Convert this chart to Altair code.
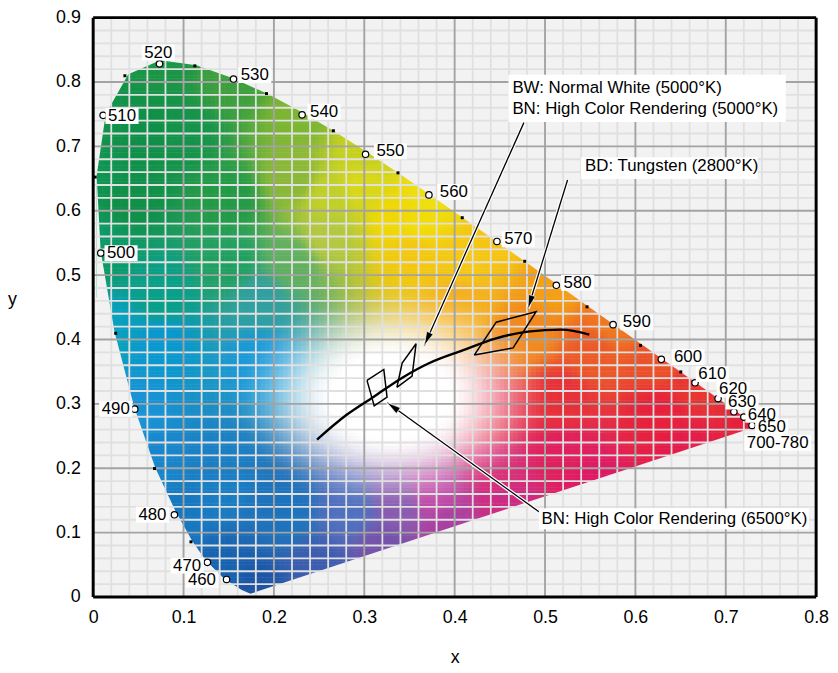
import numpy as np
import pandas as pd
import altair as alt

alt.data_transformers.disable_max_rows()

W, H = 730, 585
XMAX, YMAX = 0.8, 0.9
PXX, PXY = W / XMAX, H / YMAX
FONT = "Liberation Sans"

# ---------------- spectral locus (edge of the coloured region) ----------------
locus_nm = [380, 440, 450, 460, 470, 475, 480, 485, 490, 495, 500, 505, 510, 515, 520,
            525, 530, 535, 540, 545, 550, 555, 560, 570, 580, 590, 600, 610, 620, 630, 640, 650, 700]
locus_x = [0.1741, 0.1644, 0.1566, 0.1440, 0.1241, 0.1096, 0.0913, 0.0687, 0.0454, 0.0235, 0.0082,
           0.0039, 0.0139, 0.0389, 0.0743, 0.1142, 0.1547, 0.1929, 0.2296, 0.2658, 0.3016, 0.3373,
           0.3731, 0.4441, 0.5125, 0.5752, 0.6270, 0.6658, 0.6915, 0.7079, 0.7190, 0.7260, 0.7347]
locus_y = [0.0050, 0.0109, 0.0177, 0.0297, 0.0578, 0.0868, 0.1327, 0.2007, 0.2950, 0.4127, 0.5384,
           0.6548, 0.7502, 0.8120, 0.8338, 0.8262, 0.8059, 0.7816, 0.7543, 0.7243, 0.6923, 0.6589,
           0.6245, 0.5547, 0.4866, 0.4242, 0.3725, 0.3340, 0.3083, 0.2920, 0.2809, 0.2740, 0.2653]

# colour anchors (edge and interior)
col_x = [0.1741, 0.1440, 0.0913, 0.0687, 0.0454, 0.0235, 0.0082, 0.0039, 0.0139, 0.0743, 0.1547,
         0.2296, 0.3016, 0.3731, 0.4441, 0.5125, 0.5752, 0.6270, 0.6658, 0.7347,
         0.65, 0.55, 0.46, 0.39, 0.32, 0.25,
         0.040, 0.150, 0.220, 0.260, 0.260, 0.150, 0.220, 0.075, 0.185, 0.075, 0.185,
         0.335, 0.354, 0.408, 0.481, 0.555, 0.518, 0.445, 0.628,
         0.138, 0.211, 0.284, 0.339, 0.375, 0.450, 0.520,
         0.300, 0.360, 0.410, 0.060, 0.100]
col_y = [0.005, 0.0297, 0.1327, 0.2007, 0.2950, 0.4127, 0.5384, 0.6548, 0.7502, 0.8338, 0.8059,
         0.7543, 0.6923, 0.6245, 0.5547, 0.4866, 0.4242, 0.3725, 0.3340, 0.2653,
         0.226, 0.1795, 0.1377, 0.1052, 0.0727, 0.0402,
         0.620, 0.620, 0.650, 0.620, 0.560, 0.520, 0.520, 0.470, 0.460, 0.390, 0.370,
         0.590, 0.537, 0.460, 0.409, 0.383, 0.306, 0.280, 0.280,
         0.183, 0.132, 0.132, 0.142, 0.157, 0.200, 0.220,
         0.640, 0.580, 0.520, 0.720, 0.720]
col_c = ["#1d54a4", "#1662b0", "#1778c2", "#1886cc", "#1893d6", "#09a0c0", "#0c9a68", "#0f9452",
         "#12924a", "#1a9646", "#3d9f3e", "#7cb632", "#c6d11e", "#efdf0e", "#f6c512", "#f49f15",
         "#f0781f", "#ec5228", "#e83630", "#e6203c",
         "#e31c4c", "#df1a64", "#cc2c84", "#a840a0", "#7453aa", "#3d5daf",
         "#109048", "#229a46", "#8ab838", "#c0d028", "#b4c840", "#20a060", "#60b060", "#08a088",
         "#30a0a0", "#0a98d0", "#1898d8",
         "#f0d806", "#f2c810", "#f4b020", "#f08a20", "#ec5a28", "#e8303a", "#e62e4c", "#e8203c",
         "#1a7ec4", "#1e74bc", "#5070c0", "#8a5cb0", "#c04aa8", "#d8307a", "#e0205e",
         "#d8d818", "#f2dc08", "#f4c814", "#0e9048", "#14944a"]
white_x, white_y = 0.33, 0.31

# ---------------- labelled wavelength markers ----------------
mark_x = [0.1476, 0.1264, 0.0899, 0.0460, 0.0084, 0.0110, 0.0734, 0.1553, 0.2312, 0.3014, 0.3715,
          0.4468, 0.5125, 0.5753, 0.6287, 0.6660, 0.6915, 0.7090, 0.7200, 0.7291]
mark_y = [0.0272, 0.0538, 0.1277, 0.2918, 0.5343, 0.7482, 0.8282, 0.8046, 0.7490, 0.6877, 0.6246,
          0.5523, 0.4842, 0.4231, 0.3692, 0.3328, 0.3082, 0.2877, 0.2795, 0.2666]
dot_x = [0.1082, 0.0679, 0.0249, 0.0022, 0.0351, 0.1125, 0.1918, 0.2658, 0.3373, 0.4084, 0.4775,
         0.5465, 0.6057, 0.6502]
dot_y = [0.0857, 0.1995, 0.4097, 0.6523, 0.8097, 0.8251, 0.7820, 0.7243, 0.6589, 0.5892, 0.5215,
         0.4508, 0.3908, 0.3497]

lab_text = ["460", "470", "480", "490", "500", "510", "520", "530", "540", "550", "560", "570",
            "580", "590", "600", "610", "620", "630", "640", "650", "700-780"]
lab_x = [0.1359, 0.1195, 0.0811, 0.0405, 0.0153, 0.0164, 0.0720, 0.1633, 0.2400, 0.3134, 0.3836,
         0.4548, 0.5205, 0.5860, 0.6427, 0.6696, 0.6926, 0.7025, 0.7244, 0.7353, 0.7233]
lab_y = [0.0266, 0.0488, 0.1277, 0.2923, 0.5343, 0.7472, 0.8457, 0.8108, 0.7538, 0.6923, 0.6292,
         0.5558, 0.4882, 0.4266, 0.3728, 0.3462, 0.3226, 0.3035, 0.2831, 0.2642, 0.2395]
lab_align = ["right", "right", "right", "right", "left", "left", "center"] + ["left"] * 14

# ---------------- black body curve ----------------
planck_x = [0.2477, 0.2805, 0.3101, 0.3430, 0.3715, 0.4088, 0.4449, 0.4811, 0.5184, 0.5490]
planck_y = [0.2446, 0.2831, 0.3108, 0.3415, 0.3631, 0.3831, 0.4015, 0.4123, 0.4154, 0.4077]

# ---------------- tolerance quadrilaterals ----------------
dia_id = ["6500"] * 5 + ["5000"] * 5 + ["2800"] * 5
dia_x = [0.3030, 0.3216, 0.3252, 0.3110, 0.3030,
         0.3361, 0.3419, 0.3573, 0.3529, 0.3361,
         0.4217, 0.4460, 0.4901, 0.4647, 0.4217]
dia_y = [0.3365, 0.3535, 0.3105, 0.2969, 0.3365,
         0.3257, 0.3635, 0.3934, 0.3431, 0.3257,
         0.3758, 0.4269, 0.4431, 0.3869, 0.3758]

# ---------------- arrows (start -> tip) ----------------
arr_x0 = [0.4766, 0.5249, 0.4964]
arr_y0 = [0.7369, 0.6477, 0.1292]
arr_x1 = [0.3664, 0.4811, 0.3252]
arr_y1 = [0.3908, 0.4477, 0.3020]

# ---------------- annotation texts ----------------
ann_text = ["BW: Normal White (5000°K)", "BN: High Color Rendering (5000°K)",
            "BD: Tungsten (2800°K)", "BN: High Color Rendering (6500°K)"]
ann_x = [0.4639, 0.4639, 0.5443, 0.4961]
ann_y = [0.7908, 0.7574, 0.6689, 0.1205]
box_x0 = [0.4595, 0.5399, 0.4932]
box_x1 = [0.7664, 0.7353, 0.7920]
box_y0 = [0.7380, 0.6492, 0.1051]
box_y1 = [0.8112, 0.6831, 0.1380]

x_ticks = [0, 0.1, 0.2, 0.3, 0.4, 0.5, 0.6, 0.7, 0.8]
y_ticks = [0, 0.1, 0.2, 0.3, 0.4, 0.5, 0.6, 0.7, 0.8, 0.9]

# ======================= colour cells =======================
def hex2rgb(h):
    return [int(h[i:i + 2], 16) / 255.0 for i in (1, 3, 5)]

def inside(px, py, vx, vy):
    res = np.zeros(px.shape, bool)
    n = len(vx)
    j = n - 1
    for i in range(n):
        xi, yi, xj, yj = vx[i], vy[i], vx[j], vy[j]
        cond = ((yi > py) != (yj > py)) & (px < (xj - xi) * (py - yi) / (yj - yi + 1e-12) + xi)
        res ^= cond
        j = i
    return res

ax_, ay_ = np.array(col_x) * PXX, np.array(col_y) * PXY
ac = np.array([hex2rgb(c) for c in col_c])

step = 0.005
gx = np.arange(0, 0.745, step)
gy = np.arange(0, 0.84, step)
GX, GY = np.meshgrid(gx, gy)
PX, PY = (GX + step / 2).ravel(), (GY + step / 2).ravel()
vx = (np.array(locus_x) - white_x) * 1.05 + white_x
vy = (np.array(locus_y) - white_y) * 1.05 + white_y
keep = inside(PX, PY, vx, vy)
PX, PY = PX[keep], PY[keep]
GXk, GYk = GX.ravel()[keep], GY.ravel()[keep]

d2 = (PX[:, None] * PXX - ax_[None, :]) ** 2 + (PY[:, None] * PXY - ay_[None, :]) ** 2
wts = 1.0 / (d2 + 1.0) ** 2
hue = (wts @ ac) / wts.sum(1, keepdims=True)
dist = np.hypot(PX - white_x, PY - white_y)
t = np.clip((dist - 0.06) / (0.18 - 0.06), 0, 1)
sat = t * t * (3 - 2 * t)
col = 1 - sat[:, None] * (1 - hue)
C = np.clip(np.round(col * 255), 0, 255).astype(int)
cells = pd.DataFrame({
    "x0": np.round(GXk, 4),
    "y0": np.round(GYk, 4),
    "c": ["#%02x%02x%02x" % tuple(v) for v in C],
})

# masks outside the locus (vertical areas)
nm = np.array(locus_nm)
lx, ly = np.array(locus_x), np.array(locus_y)
up = nm >= 505
mask_top = pd.DataFrame({
    "x": [0.0, locus_x[11] - 0.0001] + list(lx[up]) + [locus_x[-1] + 0.0001, XMAX],
    "y": [0.0, 0.0] + list(ly[up]) + [0.0, 0.0],
})
mask_top["y2"] = YMAX
lo = nm <= 505
mask_bot = pd.DataFrame({
    "x": list(lx[lo][::-1]) + [locus_x[-1]],
    "y": list(ly[lo][::-1]) + [locus_y[-1]],
})
mask_bot["y2"] = 0.0

minor_x = [round(i * 0.02, 2) for i in range(1, 40) if i % 5 != 0]
minor_y = [round(i * 0.02, 2) for i in range(1, 45) if i % 5 != 0]
major_x = [round(i * 0.1, 1) for i in range(1, 8)]
major_y = [round(i * 0.1, 1) for i in range(1, 9)]

markers = pd.DataFrame({"x": mark_x, "y": mark_y})
dots = pd.DataFrame({"x": dot_x, "y": dot_y})

def text_w(s, fs):
    wmap = {"-": 0.333}
    return sum(wmap.get(ch, 0.556) for ch in s) * fs

LFS = 17
rows = []
for s, x, y, a in zip(lab_text, lab_x, lab_y, lab_align):
    w = text_w(s, LFS)
    if a == "left":
        x0, x1 = x - 2.5 / PXX, x + (w + 2.5) / PXX
    elif a == "right":
        x0, x1 = x - (w + 2.5) / PXX, x + 2.5 / PXX
    else:
        x0, x1 = x - (w / 2 + 2.5) / PXX, x + (w / 2 + 2.5) / PXX
    rows.append({"t": s, "x": x, "y": y, "al": a, "bx0": x0, "bx1": x1,
                 "by0": y - 8 / PXY, "by1": y + 8 / PXY})
labels = pd.DataFrame(rows)

planck = pd.DataFrame({"x": planck_x, "y": planck_y})
dia = pd.DataFrame({"id": dia_id, "x": dia_x, "y": dia_y, "i": list(range(5)) * 3})

arr_rows, head_rows = [], []
for k in range(3):
    arr_rows.append({"id": k, "i": 0, "x": arr_x0[k], "y": arr_y0[k]})
    arr_rows.append({"id": k, "i": 1, "x": arr_x1[k], "y": arr_y1[k]})
    dxp = (arr_x1[k] - arr_x0[k]) * PXX
    dyp = -(arr_y1[k] - arr_y0[k]) * PXY
    head_rows.append({"x": arr_x1[k], "y": arr_y1[k],
                      "a": float(np.degrees(np.arctan2(dxp, -dyp)) % 360)})
arrows = pd.DataFrame(arr_rows)
heads = pd.DataFrame(head_rows)

ann = pd.DataFrame({"t": ann_text, "x": ann_x, "y": ann_y})
boxes = pd.DataFrame({"x0": box_x0, "x1": box_x1, "y0": box_y0, "y1": box_y1})

# ======================= chart =======================
xsc = alt.Scale(domain=[0, XMAX], nice=False, zero=False)
ysc = alt.Scale(domain=[0, YMAX], nice=False, zero=False)
lab_expr = "datum.value == 0 ? '0' : format(datum.value, '.1f')"
xaxis = alt.Axis(values=x_ticks, labelExpr=lab_expr, title="x", grid=False, ticks=False,
                 domain=False, labelPadding=12, labelFontSize=18, labelFont=FONT,
                 labelColor="black", labelFlush=False, labelOverlap=False,
                 titleFont=FONT, titleFontSize=18, titleFontWeight="normal", titleColor="black",
                 titleY=66, titleBaseline="alphabetic")
yaxis = alt.Axis(values=y_ticks, labelExpr=lab_expr, title="y", grid=False, ticks=False,
                 domain=False, labelPadding=13, labelFontSize=18, labelFont=FONT,
                 labelColor="black", labelFlush=False, labelOverlap=False,
                 titleFont=FONT, titleFontSize=18, titleFontWeight="normal", titleColor="black",
                 titleAngle=0, titleX=-82, titleY=290, titleAlign="center",
                 titleBaseline="alphabetic")

def X(f):
    return alt.X(f, type="quantitative", scale=xsc, axis=xaxis)

def Y(f):
    return alt.Y(f, type="quantitative", scale=ysc, axis=yaxis, stack=None)

BG = "#f2f2f2"

cells_l = alt.Chart(cells).mark_rect(strokeWidth=0).transform_calculate(
    x1="datum.x0 + 0.0057", y1="datum.y0 + 0.0057"
).encode(x=X("x0"), x2="x1:Q", y=Y("y0"), y2="y1:Q", color=alt.Color("c:N", scale=None))

mtop = alt.Chart(mask_top).mark_area(color=BG, opacity=1, orient="vertical").encode(
    x=X("x"), y=Y("y"), y2="y2:Q")
mbot = alt.Chart(mask_bot).mark_area(color=BG, opacity=1, orient="vertical").encode(
    x=X("x"), y=Y("y"), y2="y2:Q")

GRID_MINOR = "#e0e0e0"
GRID_MAJOR = "#a3a3a3"
gmx = alt.Chart(pd.DataFrame({"v": minor_x})).mark_rule(color=GRID_MINOR, strokeWidth=1.8).encode(x=X("v"))
gmy = alt.Chart(pd.DataFrame({"v": minor_y})).mark_rule(color=GRID_MINOR, strokeWidth=1.8).encode(y=Y("v"))
gMx = alt.Chart(pd.DataFrame({"v": major_x})).mark_rule(color=GRID_MAJOR, strokeWidth=1.9).encode(x=X("v"))
gMy = alt.Chart(pd.DataFrame({"v": major_y})).mark_rule(color=GRID_MAJOR, strokeWidth=1.9).encode(y=Y("v"))
frame_x = alt.Chart(pd.DataFrame({"v": [0, XMAX]})).mark_rule(color="black", strokeWidth=3).encode(x=X("v"))
frame_y = alt.Chart(pd.DataFrame({"v": [0, YMAX]})).mark_rule(color="black", strokeWidth=3).encode(y=Y("v"))

curve = alt.Chart(planck).mark_line(color="black", strokeWidth=2.4, interpolate="monotone").encode(
    x=X("x"), y=Y("y"))
dias = alt.Chart(dia).mark_line(color="black", strokeWidth=1.5, strokeJoin="miter").encode(
    x=X("x"), y=Y("y"), detail="id:N", order="i:Q")
arr_halo = alt.Chart(arrows).mark_line(color="white", strokeWidth=3.6).encode(
    x=X("x"), y=Y("y"), detail="id:N", order="i:Q")
arr_line = alt.Chart(arrows).mark_line(color="black", strokeWidth=1.3).encode(
    x=X("x"), y=Y("y"), detail="id:N", order="i:Q")
arr_head = alt.Chart(heads).mark_point(
    shape="M0,0L0.25,1L-0.25,1Z", filled=True, color="black", size=784, opacity=1,
    stroke="white", strokeWidth=0.6
).encode(x=X("x"), y=Y("y"), angle=alt.Angle("a:Q", scale=None))

dot_l = alt.Chart(dots).mark_square(color="black", size=9, opacity=1).encode(x=X("x"), y=Y("y"))
mark_l = alt.Chart(markers).mark_point(shape="circle", filled=True, fill="white", stroke="black",
                                       strokeWidth=1.2, size=42, opacity=1).encode(x=X("x"), y=Y("y"))

lab_box = alt.Chart(labels).mark_rect(color="white", strokeWidth=0).encode(
    x=X("bx0"), x2="bx1:Q", y=Y("by0"), y2="by1:Q")
txt = []
for a in ["left", "right", "center"]:
    txt.append(alt.Chart(labels).transform_filter(alt.datum.al == a).mark_text(
        align=a, baseline="middle", font=FONT, fontSize=LFS, color="black"
    ).encode(x=X("x"), y=Y("y"), text="t:N"))

ann_box = alt.Chart(boxes).mark_rect(color="white", strokeWidth=0).encode(
    x=X("x0"), x2="x1:Q", y=Y("y0"), y2="y1:Q")
ann_txt = alt.Chart(ann).mark_text(align="left", baseline="middle", font=FONT, fontSize=17,
                                   color="black").encode(x=X("x"), y=Y("y"), text="t:N")

chart = alt.layer(
    cells_l, mtop, mbot, gmx, gmy, gMx, gMy,
    curve, dias, arr_halo, arr_line, arr_head,
    dot_l, mark_l, lab_box, *txt, ann_box, ann_txt, frame_x, frame_y
).properties(
    width=W, height=H,
    autosize=alt.AutoSizeParams(type="none"),
    padding={"left": 86, "top": 6.5, "right": 14, "bottom": 72},
).configure_view(stroke=None, fill=BG).configure(background="white")

chart.save("out.html", embed_options={"renderer": "svg", "actions": False})
